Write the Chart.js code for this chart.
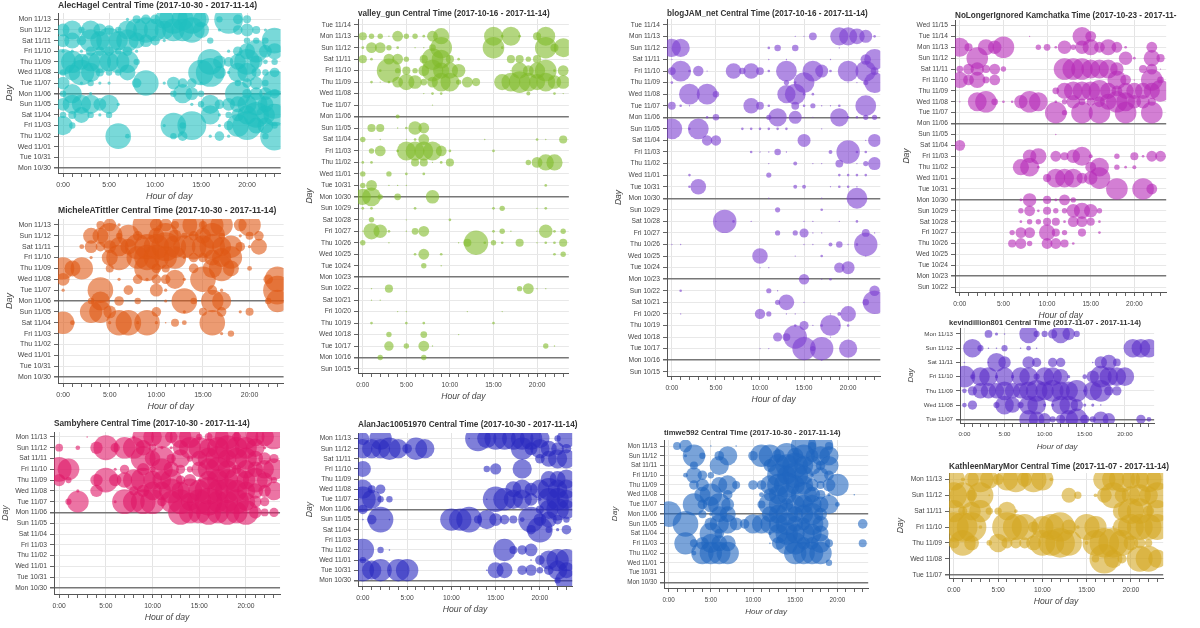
<!DOCTYPE html>
<html lang="en">
<head>
<meta charset="UTF-8">
<title>Central Time activity</title>
<style>
  body { margin: 0; background: #fff; width: 1200px; height: 628px; overflow: hidden; position: relative; }
  canvas { position: absolute; }
</style>
</head>
<body>
<script src="https://cdn.jsdelivr.net/npm/chart.js"></script>
<script>
// every day that appears on any of the y axes
const dayLabels = ['Sun 10/15','Mon 10/16','Tue 10/17','Wed 10/18','Thu 10/19','Fri 10/20','Sat 10/21',
  'Sun 10/22','Mon 10/23','Tue 10/24','Wed 10/25','Thu 10/26','Fri 10/27','Sat 10/28',
  'Sun 10/29','Mon 10/30','Tue 10/31','Wed 11/01','Thu 11/02','Fri 11/03','Sat 11/04',
  'Sun 11/05','Mon 11/06','Tue 11/07','Wed 11/08','Thu 11/09','Fri 11/10','Sat 11/11',
  'Sun 11/12','Mon 11/13','Tue 11/14','Wed 11/15'];
const hourTicks = [0,1,2,3,4,5,6,7,8,9,10,11,12,13,14,15,16,17,18,19,20,21,22,23];
const hourTickLabels = ['0:00','5:00','10:00','15:00','20:00'];

const alecHagel = [
  ['Mon 11/13', [[7,1],[8,2.5],[9,3],[10,3],[11,6],[12,9],[13,7],[14,9],[15,5],[17,2],[18,9],[19,3],[20,2.5]]],
  ['Sun 11/12', [[0,4],[1,6],[2,2],[3,6],[4,4],[5,3],[6,2],[7,6],[8,7],[9,8],[10,7],[11,6],[12,7],[13,7],[14,8],[15,5],[17,1],[19,3],[20,4],[21,2.5],[22,1]]],
  ['Sat 11/11', [[0,4],[1,5],[2,3],[3,7],[4,6],[5,8],[6,6],[7,7],[8,5],[9,4],[10,3],[11,1],[16,2],[20,2],[21,2],[22,2],[23,8]]],
  ['Fri 11/10', [[0,1],[1,1],[2,1],[3,3],[4,3],[5,3],[6,2],[7,3],[8,1],[18,1],[19,3],[20,5],[21,7],[22,4],[23,5]]],
  ['Thu 11/09', [[0,8],[1,7],[2,5],[3,6],[4,7],[5,6],[6,7],[7,7],[8,2],[15,1],[16,8],[17,4],[18,3],[19,5],[20,8],[21,4],[22,1.5],[23,2]]],
  ['Wed 11/08', [[0,2],[1,5],[2,8],[3,6],[4,2.5],[5,2],[6,2],[7,5],[15,8],[16,9],[17,4],[18,1],[19,6],[20,6],[21,3],[22,2],[23,3]]],
  ['Tue 11/07', [[0,4],[2,1],[3,2],[4,1],[5,1],[8,3],[9,8],[11,1],[12,4],[13,3],[14,3],[15,1],[19,2],[20,3],[21,4],[22,2],[23,8]]],
  ['Mon 11/06', [[0,2],[1,6],[3,1],[12,2],[13,6],[14,4],[15,2],[19,8],[20,3],[21,4],[22,4],[23,3]]],
  ['Sun 11/05', [[0,4],[1,6],[2,6],[3,6],[4,4],[5,6],[6,1],[14,1],[15,2],[16,6],[17,3],[18,4],[19,5],[20,6],[21,7],[22,5],[23,9]]],
  ['Sat 11/04', [[0,2],[1,2.5],[2,5],[3,2],[4,1],[5,2],[16,6],[17,1],[18,2],[19,4],[20,6],[21,8],[22,6],[23,7]]],
  ['Fri 11/03', [[0,6],[1,2],[11,1],[12,8],[13,2],[14,9],[17,1],[18,3],[19,7],[20,9],[21,5],[22,5],[23,2]]],
  ['Thu 11/02', [[6,8],[7,1.5],[12,2],[13,3],[16,1],[17,3],[18,1],[22,2],[23,9]]]
];
const micheleATittler = [
  ['Mon 11/13', [[4,2.5],[5,4],[6,1],[9,9],[10,4],[11,4],[12,2.5],[13,8],[14,7],[15,2.5],[16,7],[17,7],[19,4],[20,7]]],
  ['Sun 11/12', [[3,5],[4,5],[5,8],[6,2],[7,7],[8,3],[10,5],[11,8],[12,4],[13,2],[14,3],[15,5],[16,8],[17,2],[19,1],[20,2.5],[21,3]]],
  ['Sat 11/11', [[2,1.5],[3,4],[4,3],[5,4],[6,6],[7,5],[8,8],[9,8],[10,8],[11,9],[12,7],[13,7],[14,8],[15,7],[16,8],[17,6],[18,7],[19,3],[20,1],[21,5]]],
  ['Fri 11/10', [[3,1],[5,5],[6,8],[8,7],[9,8],[10,8],[11,7],[12,7],[13,1],[14,3],[15,3],[16,5],[17,6],[18,7]]],
  ['Thu 11/09', [[0,7],[1,5],[2,7],[5,2.5],[9,8],[10,3],[11,2.5],[14,3],[16,6],[17,8],[18,5],[20,1.5]]],
  ['Wed 11/08', [[0,4],[6,1],[8,3],[9,1],[10,3],[11,3],[12,6],[13,1],[15,8],[22,3],[23,8]]],
  ['Tue 11/07', [[0,1],[4,8],[7,3],[10,4],[11,1],[16,3],[17,1],[23,9]]],
  ['Mon 11/06', [[3,2],[4,6],[6,3],[8,2],[11,1],[13,8],[14,2],[16,7],[17,6],[22,2],[23,7]]],
  ['Sun 11/05', [[3,7],[4,7],[5,4],[10,3],[13,1],[15,2.5],[17,3],[19,1],[20,2.5]]],
  ['Sat 11/04', [[0,7],[1,1.5],[5,1],[6,8],[7,8],[8,1],[9,8],[10,1],[11,0.5],[12,2.5],[13,1.5],[16,8]]],
  ['Fri 11/03', [[17,1],[18,2]]]
];
const sambyhere = [
  ['Mon 11/13', [[3,0.5],[8,1],[9,7],[10,6],[11,7],[12,4],[13,7],[14,7],[15,2],[16,2.5],[17,7],[18,8],[19,3],[20,8],[21,6],[22,6],[23,8]]],
  ['Sun 11/12', [[0,2.5],[2,1.5],[4,4],[5,8],[6,3],[7,7],[8,7],[9,5],[10,2.5],[11,1],[12,1],[13,5],[14,7],[15,7],[16,6],[17,7],[18,8],[19,7],[20,7],[21,6],[22,1]]],
  ['Sat 11/11', [[9,8],[10,5],[11,8],[12,3],[13,6],[14,2],[15,5],[16,7],[17,8],[18,6],[19,7],[20,7],[21,5],[22,4],[23,3]]],
  ['Fri 11/10', [[0,8],[1,7],[6,1],[7,3],[9,4],[10,2],[11,7],[12,5],[13,3],[14,2],[15,5],[16,7],[17,8],[18,6],[19,3],[20,6],[21,5],[22,6],[23,7]]],
  ['Thu 11/09', [[0,4],[1,2],[4,4],[5,8],[6,4],[7,5],[8,7],[9,8],[10,6],[11,6],[12,7],[13,3],[14,4],[15,1],[16,6],[17,7],[18,7],[19,8],[20,6],[21,8],[22,5],[23,2]]],
  ['Wed 11/08', [[2,1],[4,4],[8,3],[9,4],[10,6],[11,6],[12,8],[13,6],[14,8],[15,7],[16,9],[17,7],[18,8],[19,7],[20,6],[21,5],[22,4],[23,6]]],
  ['Tue 11/07', [[1,2],[2,7],[6,1],[7,8],[8,7],[9,8],[10,8],[11,3],[12,7],[13,8],[14,6],[15,8],[16,9],[17,7],[18,7],[19,8],[20,6],[21,4],[22,3]]],
  ['Mon 11/06', [[13,8],[14,7],[15,7],[16,8],[17,7],[18,8],[19,7],[20,8],[21,4],[22,2.5],[23,3]]]
];
const valleyGun = [
  ['Mon 11/13', [[0,3],[1,2],[2,2],[3,0.5],[4,4],[5,2],[6,2],[7,1],[8,4],[9,6],[15,7],[16,1],[17,7],[18,1],[20,3],[21,7]]],
  ['Sun 11/12', [[0,1],[1,4],[2,4],[3,2],[4,1],[6,0.5],[7,0.5],[8,2.5],[9,8],[15,8],[16,1],[21,8],[22,3],[23,7]]],
  ['Sat 11/11', [[0,3],[1,1],[3,4],[4,4],[5,2],[7,3],[8,8],[9,7],[10,3],[11,1],[17,3],[18,3],[19,2],[20,3]]],
  ['Fri 11/10', [[2,1],[3,9],[4,2],[5,3],[6,2],[7,4],[8,8],[9,6],[10,6],[11,5],[17,0.5],[18,6],[19,4],[20,6],[21,8],[22,1],[23,4]]],
  ['Thu 11/09', [[1,1],[2,0.5],[3,1],[4,4],[5,6],[6,5],[7,2.5],[8,4],[9,7],[10,7],[11,2],[12,4],[13,3],[16,6],[17,7],[18,8],[19,7],[20,6],[21,7],[22,5],[23,5]]],
  ['Wed 11/08', [[7,0.5],[8,1],[9,1],[19,1.5],[22,1],[23,0.5]]],
  ['Tue 11/07', [[8,0.5]]],
  ['Mon 11/06', [[4,1.5]]],
  ['Sun 11/05', [[1,3],[2,3],[4,0.5],[5,1],[6,5],[7,4]]],
  ['Sat 11/04', [[0,2],[2,0.5],[5,0.5],[6,1],[7,4],[14,0.5],[20,1],[21,0.5],[23,3]]],
  ['Fri 11/03', [[1,2],[2,4],[4,1],[5,7],[6,7],[7,7],[8,7],[9,4],[10,1],[15,1]]],
  ['Thu 11/02', [[0,1],[1,1],[6,3],[7,3],[8,0.5],[9,1],[10,3],[19,2],[20,4],[21,6],[22,6]]],
  ['Wed 11/01', [[0,2],[3,2],[5,1],[7,1]]],
  ['Tue 10/31', [[0,2],[1,4],[3,0.5],[4,0.5],[5,0.5],[21,1]]],
  ['Mon 10/30', [[0,6],[1,7],[2,2],[4,2.5],[8,5]]],
  ['Sun 10/29', [[0,1],[1,1],[6,1],[15,1],[16,2],[20,0.5],[21,1]]],
  ['Sat 10/28', [[1,2],[5,0.5],[10,1]]],
  ['Fri 10/27', [[0,0.5],[1,6],[2,5],[3,1],[5,0.5],[6,2.5],[7,4],[15,1],[16,2],[17,0.5],[20,0.5],[21,5],[22,1],[23,2]]],
  ['Thu 10/26', [[0,2],[3,0.5],[11,0.5],[12,3],[13,9],[14,1],[15,2],[16,1],[18,3],[20,0.5],[21,1],[22,1],[23,3]]],
  ['Wed 10/25', [[6,1],[7,4],[9,1],[22,1],[23,2]]],
  ['Tue 10/24', [[7,2],[9,0.5]]],
  ['Sun 10/22', [[1,0.5],[3,3],[18,2],[19,4],[20,0.5],[21,0.5]]],
  ['Sat 10/21', [[1,0.5],[2,0.5]]],
  ['Fri 10/20', [[4,0.5],[5,0.5],[12,0.5],[16,0.5]]],
  ['Thu 10/19', [[1,1],[5,1],[7,1],[15,1]]],
  ['Wed 10/18', [[3,2],[7,2.5],[11,0.5]]],
  ['Tue 10/17', [[3,3.5],[5,2],[7,4],[8,0.5],[21,2],[22,0.5]]],
  ['Mon 10/16', [[2,2],[7,2]]]
];
const blogJamNet = [
  ['Mon 11/13', [[14,0.5],[15,0.5],[16,3],[19,7],[20,7],[21,6],[22,5],[23,1]]],
  ['Sun 11/12', [[0,7],[1,7],[11,1],[12,2.5],[14,2.5],[19,0.5]]],
  ['Sat 11/11', [[0,0.5],[11,0.5],[13,0.5],[18,0.5],[22,4],[23,8]]],
  ['Fri 11/10', [[0,3],[1,8],[2,1],[3,4],[4,0.5],[7,6],[8,2.5],[9,6],[10,3],[11,1],[13,8],[16,8],[17,5],[18,1],[20,8],[22,8],[23,3]]],
  ['Thu 11/09', [[0,1],[13,2],[14,1],[15,8],[20,0.5],[21,0.5],[22,2],[23,8]]],
  ['Wed 11/08', [[2,8],[4,8],[5,2.5],[13,7],[14,8],[15,1],[16,1]]],
  ['Tue 11/07', [[0,3],[1,1],[2,0.5],[9,6],[10,3],[11,1],[14,3],[15,1],[16,2],[17,0.5],[18,0.5],[19,1],[22,8]]],
  ['Mon 11/06', [[4,1],[5,2.5],[11,2],[12,7],[14,5],[15,0.5],[16,0.5],[19,7],[20,1],[21,1],[22,2],[23,2]]],
  ['Sun 11/05', [[0,8],[2,1],[3,8],[8,1],[9,1],[10,1],[11,1],[12,1],[13,1],[17,0.5]]],
  ['Sat 11/04', [[4,4],[5,4],[15,5],[22,0.5],[23,5]]],
  ['Fri 11/03', [[9,1],[10,0.5],[11,0.5],[12,2.5],[13,0.5],[18,1.5],[20,9],[21,1],[22,1]]],
  ['Thu 11/02', [[11,0.5],[14,1.5],[16,0.5],[17,0.5],[19,3],[21,0.5],[22,2],[23,5]]],
  ['Wed 11/01', [[2,1],[11,2],[19,1],[20,1],[21,1],[22,1]]],
  ['Tue 10/31', [[2,1],[3,6],[14,1.5],[15,1.5],[18,0.5],[19,1],[20,1],[21,0.5]]],
  ['Mon 10/30', [[11,0.5],[17,0.5],[21,8]]],
  ['Sun 10/29', [[12,2],[17,1]]],
  ['Sat 10/28', [[5,0.5],[6,9],[7,1],[9,0.5],[15,0.5],[16,0.5],[19,0.5],[21,1]]],
  ['Fri 10/27', [[12,2],[14,2],[15,3.5],[16,0.5],[17,0.5],[22,3],[23,0.5]]],
  ['Thu 10/26', [[0,0.5],[1,0.5],[15,0.5],[16,0.5],[18,1.5],[19,2.5],[20,0.5],[21,1],[22,9]]],
  ['Wed 10/25', [[10,6],[14,0.5],[17,1],[22,0.5]]],
  ['Tue 10/24', [[10,0.5],[11,0.5],[19,4],[20,5]]],
  ['Mon 10/23', [[15,4],[17,0.5],[18,1]]],
  ['Sun 10/22', [[1,1],[11,2],[12,0.5],[23,4]]],
  ['Sat 10/21', [[12,2],[13,6],[15,0.5],[22,2.5],[23,9]]],
  ['Fri 10/20', [[1,0.5],[10,4],[11,2],[13,0.5],[14,0.5],[18,0.5],[19,1.5],[20,6]]],
  ['Thu 10/19', [[14,1],[15,3.5],[16,0.5],[17,1],[18,8],[19,0.5],[20,1]]],
  ['Wed 10/18', [[12,3.5],[13,3],[14,9],[15,0.5],[18,0.5]]],
  ['Tue 10/17', [[10,0.5],[11,0.5],[15,9],[16,2],[17,9],[20,7]]],
  ['Mon 10/16', [[17,0.5]]]
];
const noLongerIgnored = [
  ['Tue 11/14', [[8,0.5],[14,7],[15,4]]],
  ['Mon 11/13', [[0,7],[1,3],[3,6],[4,5],[5,8],[9,2],[10,2.5],[11,1],[12,5],[13,2],[14,5],[15,6],[16,4],[17,6],[18,4],[19,1],[22,4]]],
  ['Sun 11/12', [[2,8],[19,5],[20,1],[22,6],[23,3]]],
  ['Sat 11/11', [[0,2.5],[1,4],[2,5],[3,3],[4,4],[5,2],[12,8],[13,8],[14,8],[15,7],[16,7],[17,7],[18,5],[21,3],[22,4],[23,0.5]]],
  ['Fri 11/10', [[0,6],[1,4],[2,6],[3,2.5],[4,4],[18,7],[19,4],[20,0.5],[22,8],[23,2.5]]],
  ['Thu 11/09', [[11,2.5],[12,6],[13,7],[14,7],[15,7],[16,8],[17,6],[18,4],[19,6],[20,6],[21,6],[22,6],[23,8]]],
  ['Wed 11/08', [[0,0.5],[2,7],[3,8],[4,2.5],[5,1],[6,1],[7,5],[8,8],[9,7],[11,1],[12,2],[13,5],[14,2.5],[15,3],[16,4],[17,6],[18,8],[19,7],[20,5],[21,5],[22,3]]],
  ['Tue 11/07', [[11,8],[12,2],[14,8],[16,8],[19,8],[22,8]]],
  ['Sun 11/05', [[11,0.5]]],
  ['Sat 11/04', [[0,4]]],
  ['Fri 11/03', [[8,5],[9,6],[11,4],[12,3],[13,5],[14,7],[15,1.5],[18,2],[20,3],[21,1],[22,4],[23,4]]],
  ['Thu 11/02', [[7,6],[8,7],[9,1],[15,4],[16,7],[18,2],[19,1],[20,1.5]]],
  ['Wed 11/01', [[10,3],[11,7],[12,7],[13,7],[14,4],[15,5],[16,8]]],
  ['Tue 10/31', [[18,8],[21,8],[22,4]]],
  ['Mon 10/30', [[7,1],[8,5],[10,3],[11,1],[12,4],[13,2]]],
  ['Sun 10/29', [[7,2],[8,4],[9,1],[10,3],[11,2],[12,2],[13,5],[14,6],[15,5],[16,2]]],
  ['Sat 10/28', [[7,1],[8,2],[9,2],[10,3],[11,3],[12,1],[13,4],[14,4],[15,3],[16,1]]],
  ['Fri 10/27', [[6,2],[7,4],[8,4],[10,6],[11,3],[12,2],[14,3],[16,1]]],
  ['Thu 10/26', [[6,3],[7,4],[8,2],[10,4],[11,4],[12,3],[13,1]]]
];
const kevindillion801 = [
  ['Mon 11/13', [[3,2.5],[4,1],[5,0.5],[8,6],[9,2],[10,2],[11,3],[12,6],[13,4],[14,2]]],
  ['Sun 11/12', [[1,6],[2,2],[3,0.5],[4,0.5],[5,2],[7,0.5],[8,1.5],[9,0.5],[21,6],[22,6],[23,6]]],
  ['Sat 11/11', [[0,0.5],[3,0.5],[4,6],[5,4],[8,4],[9,3],[11,3],[12,3],[16,0.5],[17,4],[18,5],[19,2.5]]],
  ['Fri 11/10', [[0,7],[1,1.5],[2,6],[3,6],[4,1],[5,6],[6,1],[7,6],[8,6],[9,2],[10,6],[11,6],[12,5],[13,1],[15,1.5],[16,4],[17,7],[18,6],[19,6],[20,6]]],
  ['Thu 11/09', [[0,1.5],[1,3],[2,5],[3,5],[4,5],[5,6],[6,5],[7,5],[8,6],[9,7],[10,6],[11,7],[12,6],[13,6],[14,7],[15,1],[16,6],[17,7],[18,3],[19,3]]],
  ['Wed 11/08', [[0,1.5],[1,3],[4,2],[5,6],[6,5],[7,2],[8,6],[9,6],[10,1],[11,1],[12,6],[13,6],[14,4],[15,1],[16,1],[17,0.5]]],
  ['Tue 11/07', [[8,6],[9,5],[10,4],[11,2],[12,3],[13,6],[14,7],[15,3],[16,2],[17,5],[18,4],[22,3],[23,1.5]]]
];
const alanJac10051970 = [
  ['Mon 11/13', [[0,4],[2,7],[12,0.5],[13,8],[14,6],[15,7],[16,7],[17,7],[18,7],[19,7],[20,6],[22,2],[23,6]]],
  ['Sun 11/12', [[0,6],[1,6],[2,6],[3,7],[4,6],[5,3],[6,7],[7,6],[18,7],[19,4],[20,6],[21,5],[22,4],[23,3]]],
  ['Sat 11/11', [[20,3],[21,5],[22,6],[23,6]]],
  ['Fri 11/10', [[0,5],[14,2],[15,3.5],[18,6]]],
  ['Thu 11/09', [[21,5],[22,5],[23,6]]],
  ['Wed 11/08', [[0,6],[1,2.5],[2,3],[17,5],[18,6],[19,4],[20,6],[21,7],[22,6],[23,6]]],
  ['Tue 11/07', [[0,8],[1,6],[2,2],[3,2],[14,0.5],[15,8],[16,7],[17,6],[18,6],[19,4],[20,1],[21,7],[22,7],[23,6]]],
  ['Mon 11/06', [[0,3],[19,0.5],[20,2.5],[21,6],[22,7],[23,6]]],
  ['Sun 11/05', [[0,0.5],[1,3],[2,8],[3,0.5],[10,7],[11,7],[12,8],[13,2.5],[14,6],[15,4],[16,3],[17,2.5],[18,1.5],[19,8],[20,4],[21,5],[22,3],[23,2]]],
  ['Sat 11/04', [[19,3],[20,8],[21,2],[22,1],[23,3]]],
  ['Thu 11/02', [[0,7],[2,2],[3,0.5],[16,7],[17,2.5],[18,3],[19,4]]],
  ['Wed 11/01', [[0,2],[19,0.5],[20,3],[21,6],[22,7],[23,7]]],
  ['Tue 10/31', [[0,7],[1,6],[2,7],[3,0.5],[4,7],[5,7],[14,0.5],[15,5],[16,5],[18,3],[19,3.5],[20,2],[21,3],[22,6],[23,5]]],
  ['Mon 10/30', [[22,2],[23,7]]]
];
const timwe592 = [
  ['Mon 11/13', [[1,2.5],[2,4],[5,0.5],[8,0.5],[16,8],[17,2.5],[18,8],[19,2.5]]],
  ['Sun 11/12', [[2,1],[3,7],[4,2],[6,3],[7,6],[10,3],[11,7],[12,7],[13,4],[14,8],[15,5],[16,7],[17,4],[18,6],[19,6]]],
  ['Sat 11/11', [[3,2.5],[6,6],[12,4],[13,7],[14,7],[15,8],[16,6],[17,6],[18,3],[19,6]]],
  ['Fri 11/10', [[2,1.5],[3,5],[4,3],[5,2],[13,7],[14,6],[15,8],[16,6],[17,1],[18,5],[19,3]]],
  ['Thu 11/09', [[3,3],[4,4],[6,5],[7,6],[8,2.5],[10,3],[11,3],[12,6],[13,7],[14,8],[15,6],[16,6],[17,4],[18,2.5],[19,4],[20,7]]],
  ['Wed 11/08', [[4,5],[5,7],[7,3],[11,1.5],[12,4],[13,6],[14,6],[16,8],[17,5],[18,3],[19,1],[22,0.5]]],
  ['Tue 11/07', [[3,7],[4,3],[5,5],[6,7],[7,4],[11,2.5],[12,7],[13,6],[14,4],[15,6],[16,6],[17,6],[18,5],[19,6],[20,1.5]]],
  ['Mon 11/06', [[0,8],[4,2.5],[5,1],[6,5],[7,5],[12,5],[13,6],[14,7],[15,5],[16,6],[17,7],[18,4]]],
  ['Sun 11/05', [[2,8],[5,4],[6,6],[7,6],[8,4],[9,3],[10,6],[11,6],[12,6],[13,6],[14,7],[15,5],[16,4],[17,7],[18,5],[23,3]]],
  ['Sat 11/04', [[5,7],[6,3],[12,1],[13,6],[14,7],[15,6],[16,7],[17,6],[18,5]]],
  ['Fri 11/03', [[2,7],[3,2.5],[4,4],[5,6],[6,5],[7,5],[12,0.5],[13,4],[14,7],[15,7],[16,4],[17,4],[18,6],[19,2.5],[23,2.5]]],
  ['Thu 11/02', [[3,1.5],[4,7],[5,7],[6,7],[7,7],[15,7],[16,7],[17,7],[18,7]]],
  ['Wed 11/01', [[19,2]]]
];
const kathleenMaryMor = [
  ['Mon 11/13', [[0,6],[1,1],[2,4],[3,7],[4,5],[5,3],[6,6],[7,7],[8,4],[9,7],[10,6],[11,1],[17,6],[18,6],[19,7],[20,5],[21,5],[22,7],[23,6]]],
  ['Sun 11/12', [[0,7],[1,7],[2,3],[3,7],[4,0.5],[13,4],[14,2],[16,1],[17,4],[18,7],[19,4],[20,5],[21,6],[22,5],[23,7]]],
  ['Sat 11/11', [[0,6],[1,2.5],[2,5],[3,6],[4,2],[5,2],[6,5],[7,1],[19,5],[20,7],[21,7],[22,3],[23,6]]],
  ['Fri 11/10', [[0,8],[1,8],[2,8],[3,1],[6,8],[7,7],[8,7],[9,3],[10,6],[11,7],[12,8],[13,4],[14,1],[15,7],[16,6],[18,0.5],[19,5],[20,7],[21,7],[22,7],[23,7]]],
  ['Thu 11/09', [[0,3],[1,7],[2,4],[4,1.5],[5,5],[6,3],[7,3],[8,3],[9,4],[10,7],[11,7],[12,8],[13,7],[15,1],[16,7],[17,8],[18,8],[19,7],[20,4],[21,3],[22,2]]],
  ['Wed 11/08', [[16,2],[17,8],[18,5],[19,2.5],[21,7],[22,7],[23,5]]]
];

const FONT = '"Liberation Sans", Arial, Helvetica, sans-serif';
Chart.defaults.font.family = FONT;

const YAXIS_W = 56, XAXIS_H = 29, TOP_PAD = 18, RIGHT_PAD = 3;

// box = plot frame on the page [left, top, right, bottom]; fs = text scale of that panel
const panels = [
  { title: 'AlecHagel Central Time (2017-10-30 - 2017-11-14)', rows: alecHagel, first: 'Mon 10/30', last: 'Mon 11/13',
    color: '31,191,191', box: [58, 13, 292, 173], yr: [-0.47, 14.6], titleY: 6, k: 1.6, fs: 1 },
  { title: 'MicheleATittler Central Time (2017-10-30 - 2017-11-14)', rows: micheleATittler, first: 'Mon 10/30', last: 'Mon 11/13',
    color: '224,88,20', box: [58, 219, 295, 383], yr: [-0.55, 14.55], titleY: 211, k: 1.6, fs: 1 },
  { title: 'Sambyhere Central Time (2017-10-30 - 2017-11-14)', rows: sambyhere, first: 'Mon 10/30', last: 'Mon 11/13',
    color: '224,24,104', box: [54, 432, 291, 594], yr: [-0.56, 14.46], titleY: 424, k: 1.55, fs: 0.96 },
  { title: 'valley_gun Central Time (2017-10-16 - 2017-11-14)', rows: valleyGun, first: 'Sun 10/15', last: 'Tue 11/14',
    color: '128,187,42', box: [358, 19, 578, 373], yr: [-0.35, 30.5], titleY: 14, k: 1.35, fs: 0.95 },
  { title: 'blogJAM_net Central Time (2017-10-16 - 2017-11-14)', rows: blogJamNet, first: 'Sun 10/15', last: 'Tue 11/14',
    color: '123,62,208', box: [667, 19, 889, 376], yr: [-0.37, 30.5], titleY: 14, k: 1.3, fs: 0.95 },
  { title: 'NoLongerIgnored Kamchatka Time (2017-10-23 - 2017-11-14)', rows: noLongerIgnored, first: 'Sun 10/22', last: 'Wed 11/15',
    color: '181,42,184', box: [955, 20, 1174, 292], yr: [-0.45, 24.5], titleY: 16, k: 1.35, fs: 0.95 },
  { title: 'kevindillion801 Central Time (2017-11-07 - 2017-11-14)', rows: kevindillion801, first: 'Tue 11/07', last: 'Mon 11/13',
    color: '90,45,200', box: [960, 328, 1162, 423], yr: [-0.26, 6.42], titleY: 323, titleX: 949, k: 1.55, fs: 0.88 },
  { title: 'AlanJac10051970 Central Time (2017-10-30 - 2017-11-14)', rows: alanJac10051970, first: 'Mon 10/30', last: 'Mon 11/13',
    color: '42,42,192', box: [358, 433, 582, 586], yr: [-0.56, 14.55], titleY: 425, k: 1.6, fs: 0.96 },
  { title: 'timwe592 Central Time (2017-10-30 - 2017-11-14)', rows: timwe592, first: 'Mon 10/30', last: 'Mon 11/13',
    color: '31,102,192', box: [664, 440, 878, 588], yr: [-0.59, 14.62], titleY: 433, k: 1.6, fs: 0.9 },
  { title: 'KathleenMaryMor Central Time (2017-11-07 - 2017-11-14)', rows: kathleenMaryMor, first: 'Tue 11/07', last: 'Mon 11/13',
    color: '211,167,34', box: [949, 473, 1175, 578], yr: [-0.21, 6.4], titleY: 467, k: 1.85, fs: 0.96 }
];

// bold title drawn from the plot's left edge (clipped by the canvas like the original)
const panelTitle = {
  id: 'panelTitle',
  afterDraw(chart, args, opts) {
    const ctx = chart.ctx;
    ctx.save();
    ctx.font = 'bold ' + opts.size + 'px ' + FONT;
    ctx.fillStyle = '#333';
    ctx.textBaseline = 'middle';
    ctx.fillText(opts.text, opts.x, opts.y);
    ctx.restore();
  }
};

// dark separator at each week start (Mondays, or the first day of a Tuesday range)
function weekLine(label, i) {
  return (label.startsWith('Mon') && label !== 'Mon 11/13') || (i === 0 && label.startsWith('Tue'));
}

function makeChart(p) {
  const [L, T, R, B] = p.box;
  const left = L - YAXIS_W, top = T - TOP_PAD;
  const canvas = document.createElement('canvas');
  canvas.width = (R - L) + YAXIS_W + RIGHT_PAD;
  canvas.height = (B - T) + TOP_PAD + XAXIS_H;
  canvas.style.left = left + 'px';
  canvas.style.top = top + 'px';
  document.body.appendChild(canvas);

  const days = dayLabels.slice(dayLabels.indexOf(p.first), dayLabels.indexOf(p.last) + 1);
  const pts = [];
  p.rows.forEach(([day, list]) => {
    list.forEach(([hr, v]) => pts.push({ x: hr, y: days.indexOf(day), r: v * p.k }));
  });
  const tickFont = { size: 7 * p.fs };
  const axisFont = { size: 9 * p.fs, style: 'italic' };

  new Chart(canvas, {
    type: 'bubble',
    data: {
      datasets: [{
        data: pts,
        backgroundColor: 'rgba(' + p.color + ',0.6)',
        borderWidth: 0,
        clip: 0
      }]
    },
    options: {
      responsive: false,
      animation: false,
      events: [],
      layout: { padding: { top: TOP_PAD, right: RIGHT_PAD, left: 0, bottom: 0 } },
      plugins: {
        legend: { display: false },
        tooltip: { enabled: false },
        panelTitle: { text: p.title, x: (p.titleX || L) - left, y: p.titleY - top, size: 8.6 * p.fs }
      },
      scales: {
        x: {
          type: 'linear',
          min: -0.55,
          max: 23.65,
          afterBuildTicks: s => { s.ticks = hourTicks.map(v => ({ value: v })); },
          afterFit: s => { s.height = XAXIS_H; },
          ticks: {
            autoSkip: false, maxRotation: 0, padding: 4, color: '#444', font: tickFont,
            callback: v => (v % 5 === 0 ? hourTickLabels[v / 5] : '')
          },
          grid: {
            color: c => (c.tick && c.tick.value % 5 === 0 ? '#e4e4e4' : 'rgba(0,0,0,0)'),
            tickColor: '#666',
            tickLength: 4
          },
          border: { color: '#555', width: 1 },
          title: {
            display: true, text: 'Hour of day', color: '#444',
            font: axisFont, padding: { top: 2, bottom: 0 }
          }
        },
        y: {
          type: 'linear',
          min: p.yr[0],
          max: p.yr[1],
          afterBuildTicks: s => { s.ticks = days.map((d, i) => ({ value: i })); },
          afterFit: s => { s.width = YAXIS_W; },
          ticks: {
            autoSkip: false, padding: 3, color: '#444', font: tickFont,
            callback: v => days[v]
          },
          grid: {
            color: c => (c.tick && weekLine(days[c.tick.value], c.tick.value) ? '#777' : '#e8e8e8'),
            lineWidth: c => (c.tick && weekLine(days[c.tick.value], c.tick.value) ? 1.5 : 1),
            tickColor: '#666',
            tickLength: 4
          },
          border: { color: '#555', width: 1 },
          title: {
            display: true, text: 'Day', color: '#444',
            font: axisFont, padding: { top: 2, bottom: 0 }
          }
        }
      }
    },
    plugins: [panelTitle]
  });
}

panels.forEach(makeChart);
</script>
</body>
</html>
